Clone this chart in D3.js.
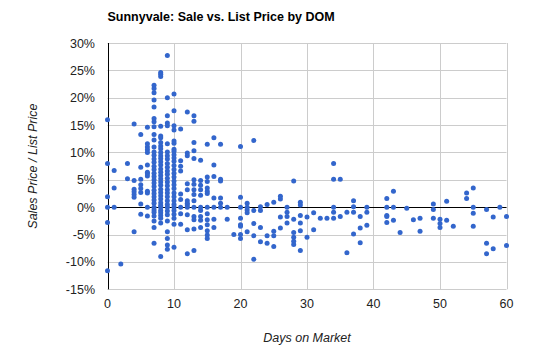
<!DOCTYPE html>
<html><head><meta charset="utf-8">
<script src="https://cdn.jsdelivr.net/npm/d3@7"></script>
<style>body{margin:0;background:#fff;}svg{display:block;font-family:"Liberation Sans",Arial,sans-serif;}</style>
</head><body><svg id="c" width="542" height="358"></svg>
<script>
const title = "Sunnyvale: Sale vs. List Price by DOM";
const xTitle = "Days on Market";
const yTitle = "Sales Price / List Price";
const xTicks = [0,10,20,30,40,50,60];
const yTicks = [-15,-10,-5,0,5,10,15,20,25,30];
// days on market per column, and sale/list % values in that column
const dom = [0,1,2,3,4,5,6,7,8,9,10,11,12,13,14,15,16,17,18,19,20,21,22,23,24,25,26,27,28,29,30,31,32,33,34,35,36,37,38,39,42,43,44,45,46,47,49,50,51,52,54,55,57,58,59,60];
const pct = [
 [16,8,1.9,0,-2.8,-11.6],
 [6.7,3.5,0],
 [-10.4],
 [8.0,5.2],
 [15.2,4.9,3.3,2.8,2.3,1.8,-4.5],
 [13.3,7.3,5.1,4.1,3.4,2.7,0.6,-1.3],
 [14.6,11.6,11.0,10.5,10.0,7.7,6.4,6.1,5.7,2.9,2.6,0,-1.6],
 [22.3,21.7,20.9,19.6,18.3,16.2,15.6,14.7,13.3,12.3,11.0,10.1,9.5,8.8,8.2,7.5,6.9,6.2,5.6,5.0,4.4,3.8,3.1,2.5,1.9,1.3,0.7,0,-0.5,-0.9,-1.6,-2.5,-3.7,-6.6],
 [24.6,24.3,23.9,14.8,13.0,12.7,11.8,11.2,10.7,10.0,9.4,8.9,8.3,7.7,7.0,6.4,5.8,5.2,4.6,4.0,3.3,2.7,2.1,1.5,0.8,0.3,0,-0.6,-1.0,-1.5,-2.0,-2.9,-9.0],
 [27.7,20.0,16.7,15.4,14.9,11.6,10.1,9.4,8.8,8.0,7.3,6.6,6.0,5.3,4.6,3.9,3.2,2.6,1.9,1.2,0.5,0,-0.7,-1.4,-2.5,-4.5,-5.7,-6.9,-7.7],
 [20.7,17.6,14.9,14.1,12.1,11.7,10.6,10.2,9.6,9.0,8.4,7.6,6.9,6.2,5.5,4.8,4.1,3.4,2.6,1.9,1.2,0.5,0,-0.6,-1.3,-2.0,-3.1,-7.3],
 [14.3,8.5,7.5,6.6,2.4,1.4,0,-1.2,-3.1],
 [17.4,9.9,9.4,4.3,3.2,1.2,0.7,0.4,0,-1.4,-4.1,-8.5],
 [16.7,15.7,11.8,10.3,8.9,5.0,4.2,3.2,2.3,1.2,0,-1.7,-2.3,-4.0,-7.9],
 [8.6,4.9,4.0,3.2,2.2,0,-0.6,-1.7,-2.4,-3.7],
 [11.5,5.5,4.7,3.5,2.9,2.5,0,-1.2,-2.3,-3.2,-4.3,-5.1,-5.7],
 [12.7,7.7,5.6,1.7,0,-2.2,-3.7],
 [11.5,5.1,4.8,1.7,0.7,0],
 [0,-2.2],
 [-5.0],
 [11.1,1.8,0,-2.0,-3.2,-3.5,-5.0,-5.7],
 [0.7,0,-0.5,-1.0,-4.5],
 [12.2,-0.6,-3.0,-5.2,-9.5],
 [0.1,-0.6,-3.7,-6.3],
 [0.5,-5.2,-6.6],
 [0.9,-4.4,-5.2,-7.2],
 [2.0,1.5,-1.8,-3.8],
 [0,-0.9,-1.7,-2.9],
 [4.8,-2.2,-4.6,-5.5,-6.2,-6.8],
 [0.9,0.4,-1.5,-2.9,-4.3,-7.9],
 [-1.8,-5.5],
 [-1.0,-4.1],
 [-2.0],
 [-2.0],
 [8.0,5.1,0,-0.9,-2.0],
 [5.1,-1.7],
 [-0.9,-8.3],
 [1.2,0.1,-0.9,-4.9],
 [-1.7,-3.8,-6.5],
 [0,-0.9,-3.3],
 [1.6,0,-1.5,-1.7,-2.8],
 [2.9,0,-2.4],
 [-4.6],
 [-0.2],
 [-2.3],
 [-2.0,-4.4],
 [0.6,-0.4,-2.0],
 [-2.2,-3.0,-3.7],
 [1.1,-2.4],
 [-3.5],
 [2.6,1.6],
 [3.5,0,-1.1,-3.5],
 [-0.4,-6.6,-8.5],
 [-1.8,-7.6],
 [0],
 [-1.7,-7.0]
];
const points = [];
dom.forEach((d,i)=>pct[i].forEach(v=>points.push({d, v})));

const svg = d3.select("#c");
const L=107.5, R=506.5, T=43, B=289.3;
const x = d3.scaleLinear().domain([0,60]).range([L,R]);
const y = d3.scaleLinear().domain([-15,30]).range([B,T]);

// grid
svg.append("g").selectAll("line").data(yTicks).join("line")
  .attr("x1",L).attr("x2",R).attr("y1",d=>Math.round(y(d))+0.5).attr("y2",d=>Math.round(y(d))+0.5)
  .attr("stroke","#cccccc");
svg.append("g").selectAll("line").data(xTicks).join("line")
  .attr("y1",T).attr("y2",B).attr("x1",d=>Math.round(x(d))+0.5).attr("x2",d=>Math.round(x(d))+0.5)
  .attr("stroke","#cccccc");
// baseline at 0 and left axis
svg.append("line").attr("x1",L).attr("x2",R).attr("y1",Math.round(y(0))+0.5).attr("y2",Math.round(y(0))+0.5).attr("stroke","#000");
svg.append("line").attr("x1",Math.round(x(0))+0.5).attr("x2",Math.round(x(0))+0.5).attr("y1",T).attr("y2",B).attr("stroke","#000");

// tick labels
svg.append("g").selectAll("text").data(yTicks).join("text")
  .attr("x",95).attr("y",d=>y(d)+4.5).attr("text-anchor","end")
  .attr("font-size",12.5).attr("fill","#222").text(d=>d+"%");
svg.append("g").selectAll("text").data(xTicks).join("text")
  .attr("x",d=>x(d)).attr("y",B+19).attr("text-anchor","middle")
  .attr("font-size",12.5).attr("fill","#222").text(d=>d);

// points
svg.append("g").selectAll("circle").data(points).join("circle")
  .attr("cx",p=>x(p.d)).attr("cy",p=>y(p.v)).attr("r",2.5).attr("fill","#3366cc");

// titles
svg.append("text").attr("x",L).attr("y",21).attr("font-size",12.5).attr("font-weight","bold").attr("fill","#000").text(title);
svg.append("text").attr("x",(L+R)/2).attr("y",342).attr("text-anchor","middle").attr("font-size",12.5).attr("font-style","italic").attr("fill","#222").text(xTitle);
svg.append("text").attr("transform",`translate(37,${(T+B)/2}) rotate(-90)`).attr("text-anchor","middle").attr("font-size",12.5).attr("font-style","italic").attr("fill","#222").text(yTitle);
</script></body></html>
